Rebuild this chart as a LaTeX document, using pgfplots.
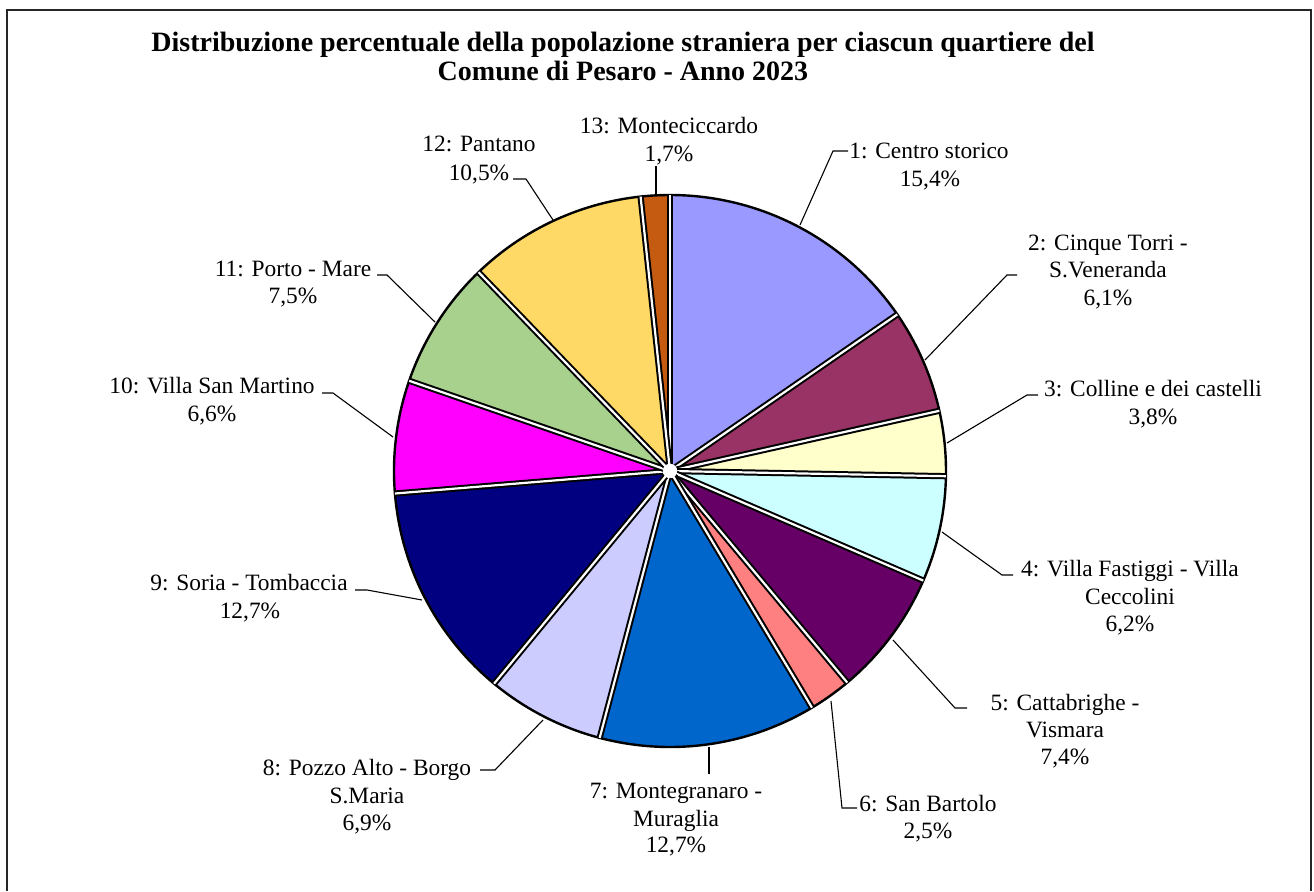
\documentclass[border=0pt]{standalone}
\usepackage{fontspec}
\setmainfont{Liberation Serif}
\usepackage{pgfplots}
\pgfplotsset{compat=1.18}
\usepgfplotslibrary{polar}
\definecolor{c1}{HTML}{9999FF}
\definecolor{c2}{HTML}{993366}
\definecolor{c3}{HTML}{FFFFCC}
\definecolor{c4}{HTML}{CCFFFF}
\definecolor{c5}{HTML}{660066}
\definecolor{c6}{HTML}{FF8080}
\definecolor{c7}{HTML}{0066CC}
\definecolor{c8}{HTML}{CCCCFF}
\definecolor{c9}{HTML}{000080}
\definecolor{c10}{HTML}{FF00FF}
\definecolor{c11}{HTML}{A9D18E}
\definecolor{c12}{HTML}{FFD966}
\definecolor{c13}{HTML}{C55A11}
\newcommand{\lblfont}{\fontsize{11.7}{13.8}\selectfont}
\newcommand{\lab}[3]{\node[anchor=base,inner sep=0pt,font=\lblfont] at (axis cs:#1,#2) {#3};}
\begin{document}
\begin{tikzpicture}
\path (0pt,0pt) rectangle (657pt,-445.5pt);
% ---------- pie ----------
\begin{polaraxis}[at={(335pt,-235.5pt)}, anchor=origin, scale only axis,
  width=276pt, height=276pt, xmin=0, xmax=360, ymin=0, ymax=276,
  hide axis, clip=false]
% slices: value (%) -> cumulative share, angle = 90 - 3.6*cumulative
\addplot[fill=c1,  draw=none, domain=90-3.6*15.4:90-3.6*0,    samples=60] {276} -- (axis cs:0,0) -- cycle; % 15.4
\addplot[fill=c2,  draw=none, domain=90-3.6*21.5:90-3.6*15.4, samples=40] {276} -- (axis cs:0,0) -- cycle; % 6.1
\addplot[fill=c3,  draw=none, domain=90-3.6*25.3:90-3.6*21.5, samples=30] {276} -- (axis cs:0,0) -- cycle; % 3.8
\addplot[fill=c4,  draw=none, domain=90-3.6*31.5:90-3.6*25.3, samples=40] {276} -- (axis cs:0,0) -- cycle; % 6.2
\addplot[fill=c5,  draw=none, domain=90-3.6*38.9:90-3.6*31.5, samples=40] {276} -- (axis cs:0,0) -- cycle; % 7.4
\addplot[fill=c6,  draw=none, domain=90-3.6*41.4:90-3.6*38.9, samples=20] {276} -- (axis cs:0,0) -- cycle; % 2.5
\addplot[fill=c7,  draw=none, domain=90-3.6*54.1:90-3.6*41.4, samples=60] {276} -- (axis cs:0,0) -- cycle; % 12.7
\addplot[fill=c8,  draw=none, domain=90-3.6*61.0:90-3.6*54.1, samples=40] {276} -- (axis cs:0,0) -- cycle; % 6.9
\addplot[fill=c9,  draw=none, domain=90-3.6*73.7:90-3.6*61.0, samples=60] {276} -- (axis cs:0,0) -- cycle; % 12.7
\addplot[fill=c10, draw=none, domain=90-3.6*80.3:90-3.6*73.7, samples=40] {276} -- (axis cs:0,0) -- cycle; % 6.6
\addplot[fill=c11, draw=none, domain=90-3.6*87.8:90-3.6*80.3, samples=40] {276} -- (axis cs:0,0) -- cycle; % 7.5
\addplot[fill=c12, draw=none, domain=90-3.6*98.3:90-3.6*87.8, samples=50] {276} -- (axis cs:0,0) -- cycle; % 10.5
\addplot[fill=c13, draw=none, domain=90-3.6*100:90-3.6*98.3,  samples=20] {276} -- (axis cs:0,0) -- cycle; % 1.7
% outer rim
\addplot[black, line width=1.2pt, domain=0:360, samples=361] {276};
% slice borders
\pgfplotsset{sep/.style={black, line width=1pt, double=white, double distance=1.1pt, line cap=butt}}
\addplot[sep] coordinates {(90,0) (90,276)};
\addplot[sep] coordinates {(34.56,0) (34.56,276)};
\addplot[sep] coordinates {(12.6,0) (12.6,276)};
\addplot[sep] coordinates {(-1.08,0) (-1.08,276)};
\addplot[sep] coordinates {(-23.4,0) (-23.4,276)};
\addplot[sep] coordinates {(-50.04,0) (-50.04,276)};
\addplot[sep] coordinates {(-59.04,0) (-59.04,276)};
\addplot[sep] coordinates {(-104.76,0) (-104.76,276)};
\addplot[sep] coordinates {(-129.6,0) (-129.6,276)};
\addplot[sep] coordinates {(-175.32,0) (-175.32,276)};
\addplot[sep] coordinates {(-199.08,0) (-199.08,276)};
\addplot[sep] coordinates {(-226.08,0) (-226.08,276)};
\addplot[sep] coordinates {(-263.88,0) (-263.88,276)};
\addplot[only marks, mark=*, mark size=3.4pt, white, mark options={draw=white,fill=white}] coordinates {(0,0)};
\end{polaraxis}
% ---------- frame, leaders, labels ----------
\begin{axis}[at={(0pt,0pt)}, anchor=north west, scale only axis,
  width=657pt, height=445.5pt, xmin=0, xmax=1314, ymin=0, ymax=891,
  y dir=reverse, hide axis, clip=false]
\addplot[black!85, line width=0.7pt] coordinates {(7,891) (7,10) (1311,10) (1311,891)};
\pgfplotsset{lead/.style={black, line width=0.55pt}}
\addplot[lead] coordinates {(848,151) (833,151) (800,225)};
\addplot[lead] coordinates {(1017,275) (1007,275) (925,360)};
\addplot[lead] coordinates {(1038,395) (1027,395) (947,443)};
\addplot[lead] coordinates {(942,532) (1002,575) (1013,575)};
\addplot[lead] coordinates {(893,640) (955,708) (967,708)};
\addplot[lead] coordinates {(831,701) (842,808) (857,808)};
\addplot[lead] coordinates {(709,747) (709,774)};
\addplot[lead] coordinates {(543,720) (495,770) (480,770)};
\addplot[lead] coordinates {(355,590) (367,590) (422,600)};
\addplot[lead] coordinates {(322,393) (333,393) (393,437)};
\addplot[lead] coordinates {(377,275) (387,275) (435,322)};
\addplot[lead] coordinates {(513,179) (526,179) (553,220)};
\addplot[lead] coordinates {(656,166) (656,196)};
% title
\node[anchor=base,inner sep=0pt,font=\fontsize{14}{14.5}\selectfont\bfseries] at (axis cs:623,51) {Distribuzione percentuale della popolazione straniera per ciascun quartiere del};
\node[anchor=base,inner sep=0pt,font=\fontsize{14}{14.5}\selectfont\bfseries] at (axis cs:623,80) {Comune di Pesaro - Anno 2023};
% labels
\lab{929}{158}{1: Centro storico}
\lab{930}{186}{15,4\%}
\lab{1108}{250}{2: Cinque Torri -}
\lab{1108}{277}{S.Veneranda}
\lab{1108}{305}{6,1\%}
\lab{1153}{396}{3: Colline e dei castelli}
\lab{1153}{424}{3,8\%}
\lab{1130}{576}{4: Villa Fastiggi - Villa}
\lab{1130}{604}{Ceccolini}
\lab{1130}{631}{6,2\%}
\lab{1065}{710}{5: Cattabrighe -}
\lab{1065}{737}{Vismara}
\lab{1065}{764}{7,4\%}
\lab{928}{811}{6: San Bartolo}
\lab{928}{838}{2,5\%}
\lab{676}{798}{7: Montegranaro -}
\lab{676}{826}{Muraglia}
\lab{676}{852}{12,7\%}
\lab{367}{775}{8: Pozzo Alto - Borgo}
\lab{367}{803}{S.Maria}
\lab{367}{830}{6,9\%}
\lab{249}{590}{9: Soria - Tombaccia}
\lab{250}{618}{12,7\%}
\lab{212}{393}{10: Villa San Martino}
\lab{212}{421}{6,6\%}
\lab{293}{276}{11: Porto - Mare}
\lab{293}{303}{7,5\%}
\lab{479}{151}{12: Pantano}
\lab{479}{180}{10,5\%}
\lab{669}{133}{13: Monteciccardo}
\lab{669}{161}{1,7\%}
\end{axis}
\end{tikzpicture}
\end{document}
